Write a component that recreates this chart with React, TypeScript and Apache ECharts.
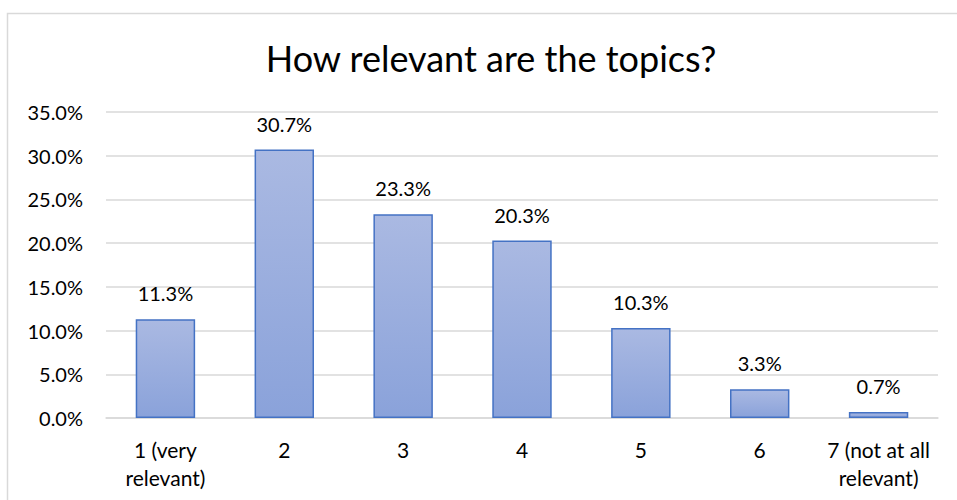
import React, { useEffect, useRef } from "react";
import * as echarts from "echarts";

const categories = ["1 (very\nrelevant)", "2", "3", "4", "5", "6", "7 (not at all\nrelevant)"];
const values = [11.3, 30.7, 23.3, 20.3, 10.3, 3.3, 0.7];
const titleText = "How relevant are the topics?";

export default function App() {
  const ref = useRef<HTMLDivElement>(null);
  useEffect(() => {
    const chart = echarts.init(ref.current!, undefined, { renderer: "svg" });
    const font = "Lato, 'Open Sans', sans-serif";
    chart.setOption({
      animation: false,
      backgroundColor: "#ffffff",
      textStyle: { fontFamily: font },
      title: {
        text: titleText,
        left: 486,
        textAlign: "center",
        top: 35,
        textStyle: { fontFamily: font, fontSize: 36, fontWeight: "normal", color: "#000000" },
      },
      graphic: [
        {
          type: "rect",
          shape: { x: 7.5, y: 13.5, width: 1000, height: 600 },
          style: { fill: "none", stroke: "#d9d9d9", lineWidth: 1.5 },
          silent: true,
        },
      ],
      grid: { left: 106, right: 19, top: 112, bottom: 82, containLabel: false },
      xAxis: {
        type: "category",
        data: categories,
        axisLine: { show: true, lineStyle: { color: "#d9d9d9", width: 1.5 } },
        axisTick: { show: false },
        axisLabel: { color: "#000000", fontSize: 21, lineHeight: 28, margin: 17, fontFamily: font, interval: 0 },
      },
      yAxis: {
        type: "value",
        min: 0,
        max: 35,
        interval: 5,
        axisLine: { show: false },
        axisTick: { show: false },
        splitLine: { lineStyle: { color: "#d9d9d9", width: 1.5 } },
        axisLabel: {
          color: "#000000",
          fontSize: 20,
          margin: 23,
          fontFamily: font,
          formatter: (v: number) => v.toFixed(1) + "%",
        },
      },
      series: [
        {
          type: "bar",
          data: values,
          barWidth: "50%",
          itemStyle: {
            color: new echarts.graphic.LinearGradient(0, 0, 0, 1, [
              { offset: 0, color: "#aab9e2" },
              { offset: 1, color: "#8aa2da" },
            ]),
            borderColor: "#4472c4",
            borderWidth: 1.5,
          },
          label: {
            show: true,
            position: "top",
            distance: 16,
            color: "#000000",
            fontSize: 20,
            fontFamily: font,
            formatter: (p: any) => p.value.toFixed(1) + "%",
          },
        },
      ],
    });
    return () => chart.dispose();
  }, []);
  return <div ref={ref} style={{ position: "fixed", left: 0, top: 0, width: 957, height: 500 }} />;
}
